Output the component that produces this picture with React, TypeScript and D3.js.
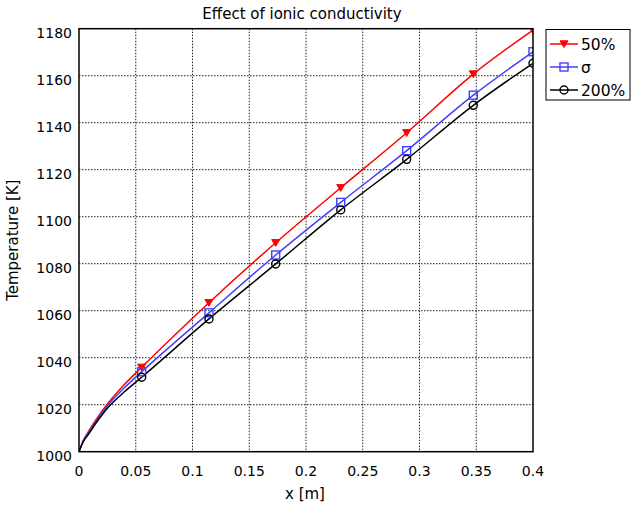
import React from "react";
import * as d3 from "d3";

const xs = [0, 0.004, 0.008, 0.015, 0.025, 0.04, 0.0552, 0.1145, 0.1733, 0.2306, 0.2887, 0.3474, 0.4];
const red50 = [1000, 1005.0, 1008.3, 1013.6, 1020.3, 1028.6, 1035.9, 1063.4, 1088.9, 1112.3, 1135.7, 1160.7, 1179.4];
const blueSigma = [1000, 1004.8, 1007.8, 1012.9, 1019.5, 1027.2, 1034.0, 1059.1, 1083.7, 1106.1, 1128.1, 1151.7, 1170.2];
const black200 = [1000, 1004.5, 1007.2, 1012.2, 1018.5, 1025.5, 1031.7, 1056.5, 1079.9, 1102.9, 1124.4, 1147.4, 1165.3];
const markerStart = 6;

const xTicks = [0, 0.05, 0.1, 0.15, 0.2, 0.25, 0.3, 0.35, 0.4];
const yTicks = [1000, 1020, 1040, 1060, 1080, 1100, 1120, 1140, 1160, 1180];

const seriesNames = ["50%", "σ", "200%"];
const seriesColors = ["#ff0000", "#4040ff", "#000000"];
const seriesMarkers = ["tri", "square", "circle"];
const seriesValues = [red50, blueSigma, black200];

const W = 639;
const H = 507;
const L = 79;
const R = 533;
const T = 28.7;
const B = 451.7;
const FONT = "DejaVu Sans";

function Marker({ kind, x, y, color }: { kind: string; x: number; y: number; color: string }) {
  if (kind === "tri") {
    const s = 4;
    return <path d={`M${x - s},${y - s * 0.8}L${x + s},${y - s * 0.8}L${x},${y + s * 0.9}Z`} fill={color} stroke={color} strokeWidth={1} />;
  }
  if (kind === "square") {
    return <rect x={x - 4} y={y - 4} width={8} height={8} fill="none" stroke={color} strokeWidth={1.4} />;
  }
  return <circle cx={x} cy={y} r={4} fill="none" stroke={color} strokeWidth={1.4} />;
}

export default function App() {
  const x = d3.scaleLinear().domain([0, 0.4]).range([L, R]);
  const y = d3.scaleLinear().domain([1000, 1180]).range([B, T]);
  const line = d3
    .line<number>()
    .x((_, i) => x(xs[i]))
    .y((v) => y(v))
    .curve(d3.curveMonotoneX);

  const legendRows = [44, 67, 90];

  return (
    <svg width={W} height={H} style={{ position: "absolute", left: 0, top: 0, background: "#fff" }} fontFamily={FONT}>
      <defs>
        <clipPath id="plotClip">
          <rect x={L} y={T} width={R - L} height={B - T} />
        </clipPath>
      </defs>
      <rect x={0} y={0} width={W} height={H} fill="#fff" />
      {xTicks.slice(1, -1).map((t) => (
        <line key={"gx" + t} x1={x(t)} x2={x(t)} y1={T} y2={B} stroke="#222" strokeWidth={1} strokeDasharray="1.5,1.5" />
      ))}
      {yTicks.slice(1, -1).map((t) => (
        <line key={"gy" + t} x1={L} x2={R} y1={y(t)} y2={y(t)} stroke="#222" strokeWidth={1} strokeDasharray="1.5,1.5" />
      ))}
      <g clipPath="url(#plotClip)">
        {seriesValues.map((vals, si) => (
          <path key={"s" + si} d={line(vals) || ""} fill="none" stroke={seriesColors[si]} strokeWidth={1.5} />
        ))}
        {seriesValues.map((vals, si) =>
          vals.map((v, i) =>
            i >= markerStart ? (
              <Marker key={"m" + si + "-" + i} kind={seriesMarkers[si]} x={x(xs[i])} y={y(v)} color={seriesColors[si]} />
            ) : null
          )
        )}
      </g>
      <rect x={L} y={T} width={R - L} height={B - T} fill="none" stroke="#000" strokeWidth={1.5} />
      {xTicks.map((t) => (
        <text key={"xt" + t} x={x(t)} y={476} textAnchor="middle" fontSize={14} fill="#000">
          {String(t)}
        </text>
      ))}
      {yTicks.map((t) => (
        <text key={"yt" + t} x={72} y={y(t) + 9.3} textAnchor="end" fontSize={14} fill="#000">
          {String(t)}
        </text>
      ))}
      <text x={302} y={19} textAnchor="middle" fontSize={15} fill="#000">
        Effect of ionic conductivity
      </text>
      <text x={305} y={499} textAnchor="middle" fontSize={15} fill="#000">
        x [m]
      </text>
      <text transform={`translate(18,${(T + B) / 2}) rotate(-90)`} textAnchor="middle" fontSize={15} fill="#000">
        Temperature [K]
      </text>
      <rect x={546} y={29.5} width={84} height={70.5} fill="#fff" stroke="#000" strokeWidth={1} />
      {seriesNames.map((name, i) => (
        <g key={"lg" + i}>
          <line x1={550} x2={578} y1={legendRows[i]} y2={legendRows[i]} stroke={seriesColors[i]} strokeWidth={1.5} />
          <Marker kind={seriesMarkers[i]} x={564} y={legendRows[i]} color={seriesColors[i]} />
          <text x={581} y={legendRows[i] + 5.5} fontSize={15.5} fill="#000">
            {name}
          </text>
        </g>
      ))}
    </svg>
  );
}
